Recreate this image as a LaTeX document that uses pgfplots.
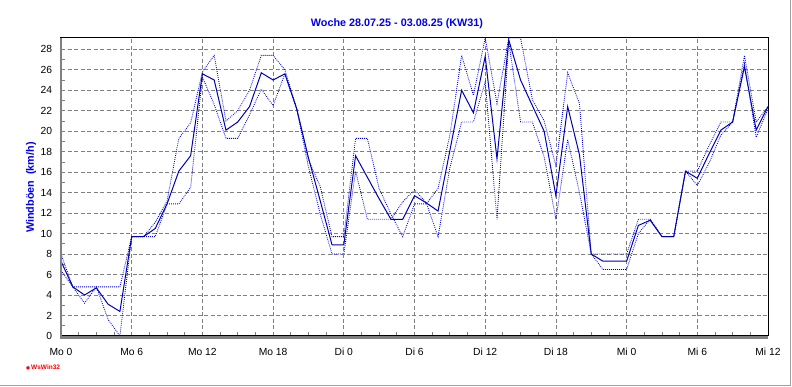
\documentclass[border=0pt]{standalone}
\usepackage{fontspec}
\setmainfont{Liberation Sans}
\newfontfamily\dejavu{DejaVu Sans}
\usepackage{pgfplots}
\pgfplotsset{compat=1.18}
\usepackage{pgfplotstable}
\definecolor{solidblue}{RGB}{0,0,180}
\definecolor{dotblue}{RGB}{0,0,215}
\definecolor{titleblue}{RGB}{0,0,235}
\definecolor{gridgray}{RGB}{128,128,128}
\definecolor{framegray}{RGB}{160,160,160}

\pgfplotstableread{
h S A B
0 7.3 8.0 6.4
1 4.8 4.8 4.8
2 4.0 4.8 3.2
3 4.7 4.8 4.8
4 3.1 4.8 1.6
5 2.4 4.8 0.0
6 9.7 9.7 9.7
7 9.7 9.7 9.7
8 10.5 11.1 9.7
9 12.9 13.2 12.9
10 16.1 19.3 12.9
11 17.6 20.8 14.5
12 25.6 25.8 25.3
13 25.0 27.4 22.6
14 20.1 21.0 19.3
15 20.9 22.0 19.3
16 22.4 24.0 21.6
17 25.7 27.4 24.1
18 25.0 27.4 22.5
19 25.6 26.0 25.6
20 22.2 22.2 22.2
21 17.4 17.2 16.5
22 13.2 14.6 11.9
23 8.9 9.7 8.0
24 8.9 9.7 8.0
25 17.6 19.3 16.1
26 15.5 19.3 11.4
27 13.4 14.4 11.4
28 11.4 11.9 11.4
29 11.4 9.7 13.1
30 13.7 12.9 14.3
31 13.0 12.9 13.0
32 12.2 14.4 9.7
33 18.1 19.6 16.4
34 24.0 27.4 20.9
35 21.8 23.5 20.9
36 27.3 29.1 24.8
37 17.3 22.7 11.4
38 28.9 29.1 28.7
39 25.0 29.1 20.9
40 22.5 23.1 20.9
41 20.0 21.0 17.5
42 13.7 16.6 11.4
43 22.4 25.7 19.2
44 17.7 22.7 14.0
45 8.0 8.0 8.0
46 7.3 8.0 6.5
47 7.3 8.0 6.5
48 7.3 8.0 6.5
49 10.8 11.4 10.0
50 11.3 11.4 11.4
51 9.7 9.7 9.7
52 9.7 9.7 9.7
53 16.1 16.1 16.1
54 15.4 16.1 14.7
55 17.8 18.6 16.9
56 20.1 20.9 19.6
57 20.9 20.9 20.9
58 26.3 27.4 26.6
59 20.1 20.9 19.4
60 22.4 22.4 22.2
}\windtable

\begin{document}
\begin{tikzpicture}
\path[use as bounding box] (-61pt,-51pt) rectangle (731pt,336pt);
\begin{axis}[
  at={(0pt,0pt)}, anchor=south west,
  scale only axis, width=707pt, height=298pt,
  xmin=0, xmax=60, ymin=0, ymax=29.1,
  xtick={0,6,...,60},
  xticklabels={Mo 0,Mo 6,Mo 12,Mo 18,Di 0,Di 6,Di 12,Di 18,Mi 0,Mi 6,Mi 12},
  ytick={0,2,...,28},
  minor x tick num=3, minor y tick num=1,
  grid=major,
  major grid style={gridgray, dash pattern=on 4pt off 2.5pt, line width=0.8pt},
  tick align=inside, tick pos=left,
  major tick length=4pt, minor tick length=4pt,
  tick style={gridgray, line width=0.8pt},
  axis line style={black, line width=1pt},
  ticklabel style={font=\fontsize{10.3}{12}\selectfont},
  xticklabel style={yshift=-8.5pt},
  yticklabel style={xshift=-5.4pt},
  /pgf/number format/assume math mode=true,
]
\addplot[dotblue, line width=0.85pt, dash pattern=on 0.85pt off 1.15pt] table[x=h,y=A]{\windtable};
\addplot[dotblue, line width=0.85pt, dash pattern=on 0.85pt off 1.15pt] table[x=h,y=B]{\windtable};
\addplot[solidblue, line width=1pt] table[x=h,y=S]{\windtable};
\end{axis}
\draw[gridgray, line width=2.5pt] (0pt,298pt) -- (0pt,-1.5pt) -- (707pt,-1.5pt);
\node[font=\bfseries\fontsize{10.8}{13}\selectfont, text=titleblue] at (336pt,312pt) {Woche 28.07.25 - 03.08.25 (KW31)};
\node[rotate=90, font=\bfseries\fontsize{10.8}{13}\selectfont, text=titleblue] at (-30pt,148.5pt) {Windböen\ \ (km/h)};
\node[anchor=west, text=red, inner sep=0pt, font=\bfseries\fontsize{6.5}{8}\selectfont] at (-35pt,-31pt) {{\dejavu\fontsize{4.5}{5}\selectfont ●}\,WsWin32};
\draw[framegray, line width=1pt] (-61pt,-49.5pt) -- (729.5pt,-49.5pt) -- (729.5pt,336pt);
\end{tikzpicture}
\end{document}
